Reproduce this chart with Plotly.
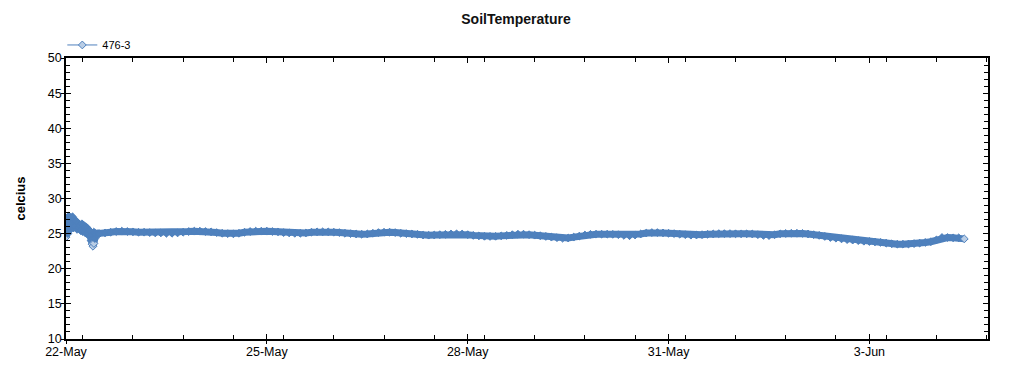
import pandas as pd
import plotly.graph_objects as go

# ---- data ----
series_name = "476-3"
early_start = "2014-05-22 00:00"
early_step = "20min"
early_values = [24.5, 27.2, 25.0, 27.5, 25.5, 27.3, 26.0, 27.4, 25.8, 27.0, 26.0, 26.8,
                25.6, 26.5, 25.9, 26.2, 25.4, 26.4, 25.3, 26.2, 25.2, 26.0, 25.0, 25.8,
                25.0, 25.5, 24.6, 24.0, 23.5, 23.2, 23.6, 24.3, 25.0, 24.9, 25.0, 25.0]
main_start = "2014-05-22 12:00"
main_step = "2h"
main_values = [
    25.0, 25.1, 25.2, 25.3, 25.35, 25.3, 25.25, 25.2, 25.2, 25.15, 25.1, 25.1,
    25.05, 25.05, 25.1, 25.2, 25.3, 25.35, 25.35, 25.3, 25.25, 25.15, 25.05, 25.0,
    24.97, 25.05, 25.2, 25.3, 25.35, 25.35, 25.35, 25.3, 25.25, 25.15, 25.1, 25.05,
    25.05, 25.1, 25.2, 25.25, 25.25, 25.25, 25.2, 25.15, 25.05, 25.0, 24.95, 24.92,
    24.95, 25.05, 25.15, 25.2, 25.2, 25.15, 25.05, 25.0, 24.95, 24.9, 24.8, 24.78,
    24.8, 24.85, 24.9, 24.95, 24.97, 24.95, 24.85, 24.75, 24.68, 24.62, 24.6, 24.62,
    24.68, 24.75, 24.85, 24.92, 24.92, 24.85, 24.78, 24.7, 24.6, 24.5, 24.42, 24.35,
    24.38, 24.5, 24.65, 24.8, 24.9, 24.92, 24.92, 24.92, 24.9, 24.85, 24.75, 24.7,
    24.8, 24.95, 25.08, 25.15, 25.15, 25.1, 25.05, 25.0, 24.92, 24.85, 24.78, 24.8,
    24.85, 24.9, 24.95, 25.0, 25.0, 25.0, 24.98, 24.97, 24.97, 24.95, 24.85, 24.75,
    24.72, 24.85, 24.97, 25.02, 25.05, 25.05, 25.03, 24.95, 24.85, 24.75, 24.6, 24.45,
    24.35, 24.25, 24.15, 24.08, 24.0, 23.92, 23.88, 23.82, 23.75, 23.65, 23.55, 23.5,
    23.5, 23.52, 23.58, 23.65, 23.75, 23.85, 24.1, 24.45, 24.45, 24.4, 24.4, 24.25,
]
x_range = ["2014-05-22 00:00", "2014-06-04 18:30"]
y_range = [10, 50]
tick_start = "2014-05-22"

# ---- build ----
times = list(pd.date_range(early_start, periods=len(early_values), freq=early_step)) + \
        list(pd.date_range(main_start, periods=len(main_values), freq=main_step))
values = early_values + main_values

DARK = "#4f81bd"
LIGHT = "#b9cde5"
light_idx = {0, 28, 29, 30, len(values) - 1}
marker_colors = [LIGHT if i in light_idx else DARK for i in range(len(values))]

fig = go.Figure()
# dense band (the many overlapping readings)
fig.add_trace(go.Scatter(x=times, y=values, mode="lines",
                         line=dict(color=DARK, width=7),
                         showlegend=False, hoverinfo="skip",
                         xaxis="x", yaxis="y"))
# readings with diamond markers
fig.add_trace(go.Scatter(x=times, y=values, mode="lines+markers", name=series_name,
                         line=dict(color=DARK, width=1),
                         marker=dict(symbol="diamond", size=6, color=marker_colors,
                                     line=dict(color=DARK, width=1)),
                         xaxis="x2", yaxis="y2"))

font_family = "Liberation Sans, Arial, sans-serif"
DAY = 86400000

common_x = dict(type="date", range=x_range, tick0=tick_start, dtick=3 * DAY,
                showgrid=False, zeroline=False)
common_y = dict(range=y_range, dtick=5, showgrid=False, zeroline=False)

# page body has an 8px margin, so the figure is sized/offset to compensate
fig.update_layout(
    width=1016, height=367,
    paper_bgcolor="white", plot_bgcolor="white",
    margin=dict(l=54, r=36, t=50, b=36),
    font=dict(family=font_family, color="black", size=12),
    title=dict(text="<b>SoilTemperature</b>", x=0.5, xanchor="center",
               y=0.97, yanchor="middle", font=dict(size=14, color="#111111")),
    showlegend=True,
    legend=dict(x=-0.004, xanchor="left", y=1.098, yanchor="top",
                bgcolor="rgba(0,0,0,0)", font=dict(size=11), itemwidth=30),
    xaxis=dict(**common_x, showline=True, linecolor="black", linewidth=1.5,
               mirror="ticks", ticks="inside", ticklen=5, tickcolor="black",
               tickformat="%-d-%b", tickfont=dict(size=12.5),
               minor=dict(dtick=0.75 * DAY, ticks="inside", ticklen=4,
                          tickcolor="black")),
    yaxis=dict(**common_y, showline=True, linecolor="black", linewidth=1.5,
               mirror="ticks", ticks="inside", ticklen=5, tickcolor="black",
               tickfont=dict(size=12.5),
               minor=dict(dtick=1, ticks="inside", ticklen=4, tickcolor="black"),
               title=dict(text="<b>celcius</b>", font=dict(size=13), standoff=19)),
    xaxis2=dict(**common_x, overlaying="x", anchor="y2", side="bottom",
                showline=False, ticks="outside", ticklen=4, tickcolor="black",
                showticklabels=False),
    yaxis2=dict(**common_y, overlaying="y", anchor="x2", side="left",
                showline=False, ticks="outside", ticklen=4, tickcolor="black",
                showticklabels=False),
)

fig.write_html("out.html")
